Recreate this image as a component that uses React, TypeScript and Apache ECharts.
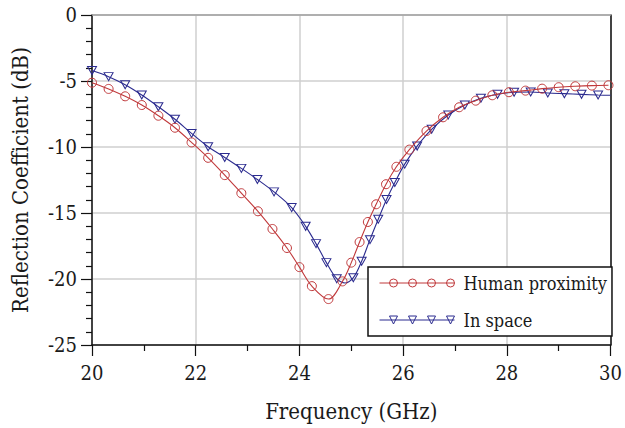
import React, { useEffect, useRef } from "react";
import * as echarts from "echarts";

const seriesNames = ["Human proximity", "In space"];

// Human proximity: marker points (GHz, dB)
const humanFreq = [20.0, 20.32, 20.64, 20.96, 21.28, 21.6, 21.92, 22.24, 22.56, 22.88, 23.2, 23.48, 23.76, 24.0, 24.24, 24.56, 24.83, 25.0, 25.16, 25.32, 25.48, 25.67, 25.87, 26.12, 26.45, 26.77, 27.08, 27.4, 27.72, 28.04, 28.36, 28.68, 29.0, 29.32, 29.64, 29.96];
const humanDb = [-5.13, -5.6, -6.16, -6.82, -7.63, -8.54, -9.65, -10.82, -12.13, -13.5, -14.87, -16.21, -17.65, -19.1, -20.54, -21.52, -20.18, -18.76, -17.2, -15.68, -14.34, -12.82, -11.5, -10.2, -8.79, -7.75, -6.99, -6.49, -6.08, -5.85, -5.73, -5.58, -5.47, -5.4, -5.35, -5.32];

// In space: marker points (GHz, dB)
const spaceFreq = [20.0, 20.32, 20.64, 20.96, 21.28, 21.6, 21.92, 22.24, 22.56, 22.88, 23.19, 23.51, 23.85, 24.12, 24.32, 24.52, 24.72, 25.04, 25.2, 25.36, 25.52, 25.68, 25.84, 26.03, 26.27, 26.55, 26.87, 27.19, 27.5, 27.82, 28.14, 28.46, 28.79, 29.11, 29.44, 29.76];
const spaceDb = [-4.21, -4.67, -5.28, -6.06, -6.95, -7.9, -8.97, -9.98, -10.79, -11.62, -12.46, -13.4, -14.59, -16.01, -17.32, -18.76, -19.98, -19.9, -18.66, -17.02, -15.47, -13.98, -12.69, -11.3, -9.93, -8.66, -7.58, -6.82, -6.31, -6.01, -5.85, -5.83, -5.91, -5.96, -6.01, -6.06];
// curve points without a marker: minimum and end of line
const spaceCurveOnly = [
  [24.88, -20.3],
  [30.0, -6.08],
];

const xTicks = [20, 22, 24, 26, 28, 30];
const yTicks = [0, -5, -10, -15, -20, -25];

const RED = "#c0393b";
const BLUE = "#2b2b8f";
const FONT = "'DejaVu Serif Condensed', 'DejaVu Serif', serif";

function circleIcon(): string {
  let d = "M0 4 L75 4 ";
  [14, 33, 52, 71].forEach((cx) => {
    d += `M${cx + 4} 4 A4 4 0 1 0 ${cx - 4} 4 A4 4 0 1 0 ${cx + 4} 4 `;
  });
  return "path://" + d;
}
function triIcon(): string {
  let d = "M0 4 L75 4 ";
  [14, 33, 52, 71].forEach((cx) => {
    d += `M${cx - 4} 0 L${cx + 4} 0 L${cx} 8 Z `;
  });
  return "path://" + d;
}

export default function App() {
  const ref = useRef<HTMLDivElement>(null);
  useEffect(() => {
    if (!ref.current) return;
    const chart = echarts.init(ref.current, undefined, { renderer: "svg" });

    const humanData = humanFreq.map((f, i) => [f, humanDb[i]]);
    const spaceData: any[] = spaceFreq.map((f, i) => [f, spaceDb[i]]);
    spaceCurveOnly.forEach((p) => spaceData.push({ value: p, symbol: "none" }));
    spaceData.sort((a: any, b: any) => {
      const ax = Array.isArray(a) ? a[0] : a.value[0];
      const bx = Array.isArray(b) ? b[0] : b.value[0];
      return ax - bx;
    });

    const labelStyle = { fontFamily: FONT, fontSize: 20, color: "#1a1a1a" };
    const nameStyle = { fontFamily: FONT, fontSize: 22, color: "#1a1a1a" };

    chart.setOption({
      animation: false,
      backgroundColor: "#ffffff",
      textStyle: { fontFamily: FONT },
      grid: { left: 92, top: 15, right: 12, bottom: 83, containLabel: false },
      legend: {
        orient: "vertical",
        left: 368,
        top: 267,
        padding: [7, 5, 7, 11],
        itemGap: 19,
        itemWidth: 75,
        itemHeight: 8,
        backgroundColor: "#ffffff",
        borderColor: "#111111",
        borderWidth: 1.5,
        borderRadius: 0,
        textStyle: { fontFamily: FONT, fontSize: 18, color: "#1a1a1a", padding: [0, 0, 0, 4] },
        data: [
          {
            name: seriesNames[0],
            icon: circleIcon(),
            itemStyle: { color: "rgba(0,0,0,0)", borderColor: RED, borderWidth: 1 },
          },
          {
            name: seriesNames[1],
            icon: triIcon(),
            itemStyle: { color: "rgba(0,0,0,0)", borderColor: BLUE, borderWidth: 1 },
          },
        ],
      },
      xAxis: [
        {
          type: "value",
          min: 20,
          max: 30,
          interval: 2,
          name: "Frequency (GHz)",
          nameLocation: "middle",
          nameGap: 55,
          nameTextStyle: nameStyle,
          axisLine: { show: true, onZero: false, lineStyle: { color: "#111", width: 1.5 } },
          axisTick: { show: true, length: 11, lineStyle: { color: "#111", width: 1.2 } },
          minorTick: { show: true, splitNumber: 2, length: 6, lineStyle: { color: "#111", width: 1.2 } },
          axisLabel: { ...labelStyle, margin: 18, formatter: (v: number) => (xTicks.includes(v) ? String(v) : "") },
          splitLine: { show: true, lineStyle: { color: "#cfcfcf", width: 1.5 } },
        },
        {
          type: "value",
          position: "top",
          min: 20,
          max: 30,
          axisLine: { show: true, onZero: false, lineStyle: { color: "#a0a0a0", width: 1.5 } },
          axisTick: { show: false },
          axisLabel: { show: false },
          splitLine: { show: false },
        },
      ],
      yAxis: [
        {
          type: "value",
          min: -25,
          max: 0,
          interval: 5,
          name: "Reflection Coefficient (dB)",
          nameLocation: "middle",
          nameGap: 61,
          nameTextStyle: nameStyle,
          axisLine: { show: true, onZero: false, lineStyle: { color: "#111", width: 1.5 } },
          axisTick: { show: true, length: 11, lineStyle: { color: "#111", width: 1.2 } },
          minorTick: { show: true, splitNumber: 5, length: 6, lineStyle: { color: "#111", width: 1.2 } },
          axisLabel: { ...labelStyle, margin: 15, formatter: (v: number) => (yTicks.includes(v) ? String(v) : "") },
          splitLine: { show: true, lineStyle: { color: "#cfcfcf", width: 1.5 } },
        },
        {
          type: "value",
          position: "right",
          min: -25,
          max: 0,
          axisLine: { show: true, onZero: false, lineStyle: { color: "#111", width: 1.5 } },
          axisTick: { show: false },
          axisLabel: { show: false },
          splitLine: { show: false },
        },
      ],
      series: [
        {
          name: seriesNames[0],
          type: "line",
          data: humanData,
          smooth: 0.35,
          symbol: "circle",
          symbolSize: 9,
          showAllSymbol: true,
          lineStyle: { color: RED, width: 1.1 },
          itemStyle: { color: "rgba(0,0,0,0)", borderColor: RED, borderWidth: 1 },
          emphasis: { disabled: true },
          z: 3,
        },
        {
          name: seriesNames[1],
          type: "line",
          data: spaceData,
          smooth: 0.35,
          symbol: "triangle",
          symbolRotate: 180,
          symbolSize: [9, 8],
          showAllSymbol: true,
          lineStyle: { color: BLUE, width: 1.1 },
          itemStyle: { color: "rgba(0,0,0,0)", borderColor: BLUE, borderWidth: 1 },
          emphasis: { disabled: true },
          z: 2,
        },
      ],
    });
    return () => chart.dispose();
  }, []);
  return (
    <div
      ref={ref}
      style={{ position: "fixed", left: 0, top: 0, width: 625, height: 428, background: "#fff" }}
    />
  );
}
